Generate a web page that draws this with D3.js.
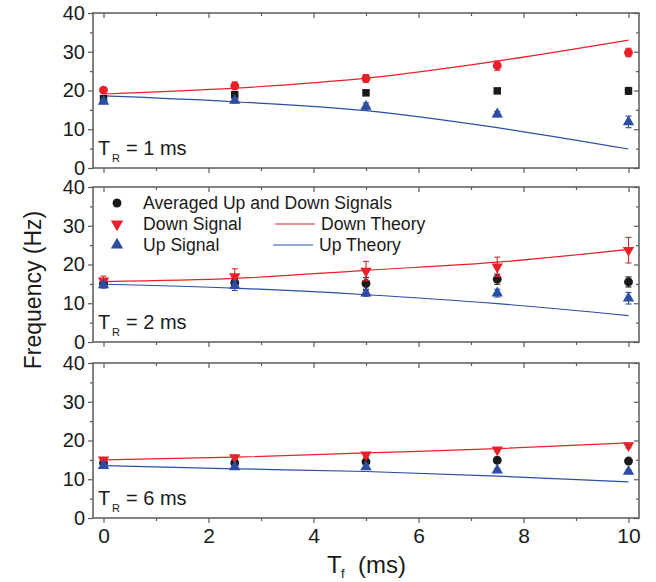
<!DOCTYPE html>
<html>
<head>
<meta charset="utf-8">
<script src="https://cdn.jsdelivr.net/npm/d3@7"></script>
<style>
  html, body { margin: 0; padding: 0; background: #fff; }
  svg { display: block; }
  text { font-family: "Liberation Sans", Arial, Helvetica, sans-serif; fill: #1a1a1a; }
</style>
</head>
<body>
<svg id="chart" width="656" height="582"></svg>
<script>
// Fall time T_f (ms) at which each frequency was measured
const tf = [0, 2.5, 5, 7.5, 10];
const xTickValues = [0, 2, 4, 6, 8, 10];
const yTickValues = [0, 10, 20, 30, 40];

// T_R = 1 ms
const avg1 = [17.9, 18.9, 19.4, 19.9, 19.9];
const avg1Err = [0.5, 0.7, 0.7, 0.6, 0.9];
const down1 = [20.1, 21.2, 23.1, 26.4, 29.8];
const down1Err = [0.6, 1.0, 1.0, 1.2, 1.1];
const up1 = [17.2, 17.4, 15.9, 13.9, 11.9];
const up1Err = [0.6, 0.6, 0.9, 0.7, 1.5];
const downTheory1 = [19.1, 20.6, 23.2, 27.6, 33.0];
const upTheory1 = [18.6, 17.1, 14.8, 10.4, 4.9];

// T_R = 2 ms
const avg2 = [15.1, 15.3, 15.1, 16.2, 15.5];
const avg2Err = [0.7, 1.0, 1.5, 1.3, 1.3];
const down2 = [15.8, 16.9, 18.3, 19.4, 23.7];
const down2Err = [1.2, 2.0, 2.5, 2.5, 3.3];
const up2 = [14.7, 14.5, 12.6, 12.6, 11.3];
const up2Err = [0.8, 1.2, 0.8, 1.0, 1.5];
const downTheory2 = [15.6, 16.4, 18.5, 20.6, 23.9];
const upTheory2 = [14.9, 13.9, 12.2, 9.9, 6.8];

// T_R = 6 ms
const avg3 = [14.2, 14.2, 14.5, 14.9, 14.7];
const avg3Err = [0.6, 0.6, 0.5, 0.3, 0.3];
const down3 = [15.0, 15.6, 16.3, 17.6, 18.7];
const down3Err = [0.5, 0.5, 0.6, 0.5, 0.6];
const up3 = [13.5, 13.2, 13.2, 12.3, 12.0];
const up3Err = [0.5, 0.5, 0.6, 0.4, 0.4];
const downTheory3 = [15.0, 15.7, 16.8, 17.9, 19.4];
const upTheory3 = [13.5, 12.7, 12.0, 10.8, 9.3];

const panelLabels = ["1 ms", "2 ms", "6 ms"];
const legendMarkers = ["Averaged Up and Down Signals", "Down Signal", "Up Signal"];
const legendLines = ["Down Theory", "Up Theory"];

const RED = "#e8202a";
const BLUE = "#2d4da3";
const BLACK = "#1a1a1a";
const FRAME = "#5a5a5a";
const FONT = '"Liberation Sans", Arial, sans-serif';

const svg = d3.select("#chart");
const left = 93, right = 639;
const panelTops = [13, 187, 363];
const panelH = 155;

const x = d3.scaleLinear().domain([-0.2, 10.2]).range([left, right]);

const panels = [
  { avg: avg1, avgErr: avg1Err, down: down1, downErr: down1Err, up: up1, upErr: up1Err,
    dT: downTheory1, uT: upTheory1, avgShape: "square", downShape: "circle" },
  { avg: avg2, avgErr: avg2Err, down: down2, downErr: down2Err, up: up2, upErr: up2Err,
    dT: downTheory2, uT: upTheory2, avgShape: "circle", downShape: "down" },
  { avg: avg3, avgErr: avg3Err, down: down3, downErr: down3Err, up: up3, upErr: up3Err,
    dT: downTheory3, uT: upTheory3, avgShape: "circle", downShape: "down" }
];

function symbolPath(shape) {
  if (shape === "square") return d3.symbol(d3.symbolSquare, 56)();
  if (shape === "circle") return d3.symbol(d3.symbolCircle, 62)();
  return d3.symbol(d3.symbolTriangle, 56)();
}

function drawMarker(g, shape, cx, cy, color) {
  const rot = shape === "down" ? " rotate(180)" : "";
  g.append("path")
    .attr("d", symbolPath(shape === "down" ? "up" : shape))
    .attr("fill", color)
    .attr("transform", `translate(${cx},${cy})${rot}`);
}

function drawSeries(g, y, vals, errs, shape, color) {
  const eb = g.append("g").attr("stroke", color).attr("stroke-width", 1.1).attr("fill", "none");
  vals.forEach((v, i) => {
    const cx = x(tf[i]);
    const y1 = y(v + errs[i]), y0 = y(v - errs[i]);
    eb.append("line").attr("x1", cx).attr("x2", cx).attr("y1", y1).attr("y2", y0);
    eb.append("line").attr("x1", cx - 3).attr("x2", cx + 3).attr("y1", y1).attr("y2", y1);
    eb.append("line").attr("x1", cx - 3).attr("x2", cx + 3).attr("y1", y0).attr("y2", y0);
  });
  vals.forEach((v, i) => drawMarker(g, shape, x(tf[i]), y(v), color));
}

panels.forEach((p, k) => {
  const top = panelTops[k], bottom = top + panelH;
  const y = d3.scaleLinear().domain([0, 40]).range([bottom, top]);
  const g = svg.append("g");

  // theory curves
  const line = d3.line().x((d, i) => x(tf[i])).y(d => y(d)).curve(d3.curveMonotoneX);
  g.append("path").attr("d", line(p.dT)).attr("fill", "none").attr("stroke", RED).attr("stroke-width", 1.2);
  g.append("path").attr("d", line(p.uT)).attr("fill", "none").attr("stroke", BLUE).attr("stroke-width", 1.2);

  // measured points
  drawSeries(g, y, p.avg, p.avgErr, p.avgShape, BLACK);
  drawSeries(g, y, p.down, p.downErr, p.downShape, RED);
  drawSeries(g, y, p.up, p.upErr, "up", BLUE);

  // axes: left and bottom with outward ticks, top and right mirrored inward
  const xMinor = d3.range(0, 11, 1).filter(v => v % 2 !== 0);
  const yMinor = [5, 15, 25, 35];

  const gl = g.append("g").attr("transform", `translate(${left},0)`)
    .call(d3.axisLeft(y).tickValues(yTickValues).tickSize(5).tickPadding(3));
  g.append("g").attr("transform", `translate(${left},0)`)
    .call(d3.axisLeft(y).tickValues(yMinor).tickSize(3).tickFormat(""));

  const gb = g.append("g").attr("transform", `translate(0,${bottom})`)
    .call(d3.axisBottom(x).tickValues(xTickValues).tickSize(5).tickPadding(5));
  g.append("g").attr("transform", `translate(0,${bottom})`)
    .call(d3.axisBottom(x).tickValues(xMinor).tickSize(3).tickFormat(""));

  g.append("g").attr("transform", `translate(0,${top})`)
    .call(d3.axisBottom(x).tickValues(xTickValues).tickSize(5).tickFormat(""));
  g.append("g").attr("transform", `translate(0,${top})`)
    .call(d3.axisBottom(x).tickValues(xMinor).tickSize(3).tickFormat(""));

  g.append("g").attr("transform", `translate(${right},0)`)
    .call(d3.axisLeft(y).tickValues(yTickValues).tickSize(5).tickFormat(""));
  g.append("g").attr("transform", `translate(${right},0)`)
    .call(d3.axisLeft(y).tickValues(yMinor).tickSize(3).tickFormat(""));

  g.selectAll(".domain").remove();
  g.selectAll(".tick line").attr("stroke", FRAME).attr("stroke-width", 1.2);
  gl.selectAll("text").attr("font-size", 20).attr("fill", BLACK).style("font-family", FONT);
  if (k === 2) {
    gb.selectAll("text").attr("font-size", 21).attr("fill", BLACK).style("font-family", FONT);
  } else {
    gb.selectAll("text").remove();
  }

  // frame
  g.append("rect").attr("x", left).attr("y", top).attr("width", right - left).attr("height", panelH)
    .attr("fill", "none").attr("stroke", FRAME).attr("stroke-width", 1.5);

  // panel label T_R = ...
  const lab = g.append("text").attr("y", bottom - 13).attr("font-size", 20);
  lab.append("tspan").attr("x", left + 5).text("T");
  lab.append("tspan").attr("x", left + 19).attr("dy", 7).attr("font-size", 11).text("R");
  lab.append("tspan").attr("x", left + 33).attr("dy", -7).text("= " + panelLabels[k]);
});

// legend inside the middle panel
const lg = svg.append("g");
const legY = [203, 224, 245];
const legShapes = ["circle", "down", "up"];
const legColors = [BLACK, RED, BLUE];
legendMarkers.forEach((t, i) => {
  lg.append("path")
    .attr("d", d3.symbol(legShapes[i] === "circle" ? d3.symbolCircle : d3.symbolTriangle, legShapes[i] === "circle" ? 62 : 66)())
    .attr("transform", `translate(117,${legY[i]})${legShapes[i] === "down" ? " rotate(180)" : ""}`)
    .attr("fill", legColors[i]);
  lg.append("text").attr("x", 143).attr("y", legY[i] + 6).attr("font-size", 17.6).text(t);
});
legendLines.forEach((t, i) => {
  const yy = legY[i + 1];
  const x0 = i === 0 ? 275 : 273;
  lg.append("line").attr("x1", x0).attr("x2", x0 + 40).attr("y1", yy).attr("y2", yy)
    .attr("stroke", i === 0 ? RED : BLUE).attr("stroke-width", 1.2);
  lg.append("text").attr("x", x0 + 46).attr("y", yy + 6).attr("font-size", 17.6).text(t);
});

// axis titles
svg.append("text")
  .attr("transform", "translate(41,290) rotate(-90)")
  .attr("text-anchor", "middle").attr("font-size", 23)
  .text("Frequency (Hz)");

const xt = svg.append("text").attr("y", 573).attr("font-size", 24);
xt.append("tspan").attr("x", 327).text("T");
xt.append("tspan").attr("x", 341).attr("dy", 5).attr("font-size", 13).text("f");
xt.append("tspan").attr("x", 358).attr("dy", -5).text("(ms)");
</script>
</body>
</html>
